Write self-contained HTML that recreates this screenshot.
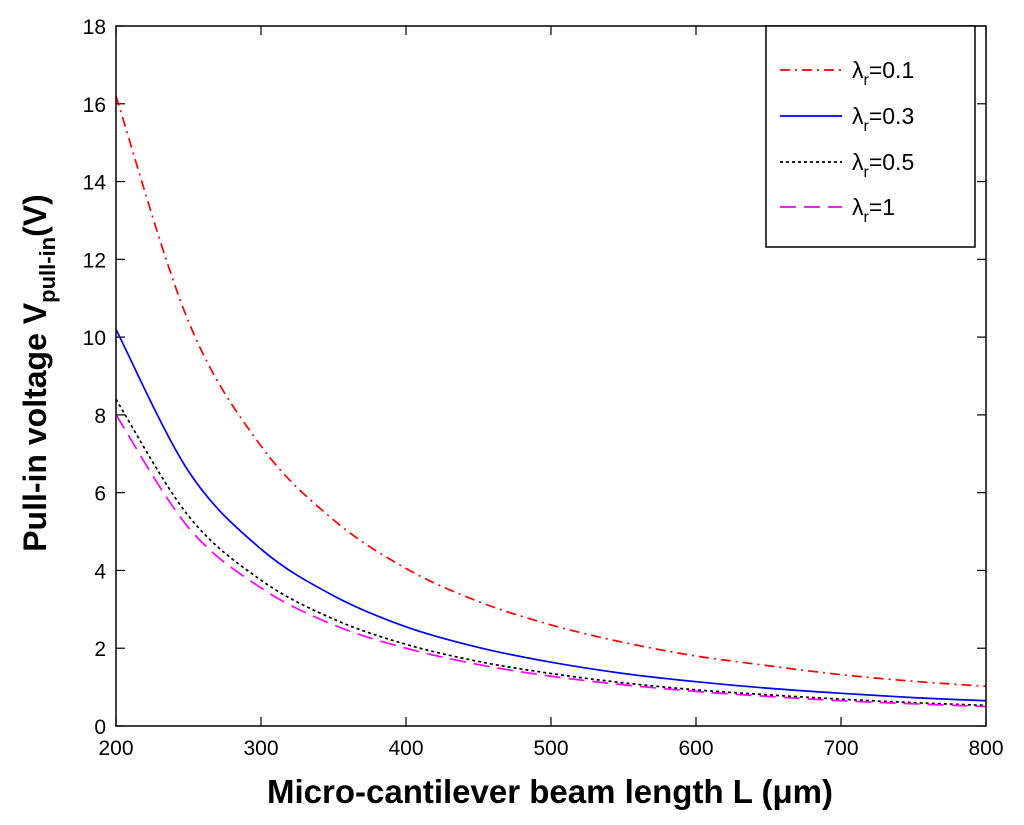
<!DOCTYPE html>
<html><head><meta charset="utf-8"><style>
body{margin:0;background:#fff;}
svg{display:block;font-family:"Liberation Sans",Arial,sans-serif;}
</style></head><body>
<svg id="chart" width="1024" height="825">
<rect x="0" y="0" width="1024" height="825" fill="#fff"/>
<g id="ticks"></g>
<g id="series"></g>
<rect x="116" y="26" width="870" height="700" fill="none" stroke="#000" stroke-width="1.5"/>
<text x="550" y="803" text-anchor="middle" font-size="33" font-weight="bold">Micro-cantilever beam length L (μm)</text>
<text transform="translate(46,373) rotate(-90)" text-anchor="middle" font-size="32" font-weight="bold">Pull-in voltage V<tspan font-size="22" dy="9">pull-in</tspan><tspan dy="-9">(V)</tspan></text>
<g>
<rect x="766" y="26" width="209" height="221" fill="#fff" stroke="#000" stroke-width="1.5"/>
<g id="legend-entries"></g>
</g>
</svg>
<script>
const xValues=[200,250,300,350,400,450,500,550,600,650,700,750,800];
const red=[16.2,10.4,7.2,5.3,4.05,3.2,2.6,2.15,1.8,1.55,1.32,1.15,1.02];
const blue=[10.2,6.55,4.55,3.35,2.55,2.02,1.64,1.35,1.14,0.97,0.84,0.73,0.65];
const black=[8.4,5.4,3.75,2.75,2.1,1.66,1.35,1.11,0.93,0.8,0.69,0.6,0.53];
const magenta=[8.0,5.1,3.55,2.6,2.0,1.58,1.28,1.06,0.89,0.76,0.65,0.57,0.5];
const xTicks=[200,300,400,500,600,700,800];
const yTicks=[0,2,4,6,8,10,12,14,16,18];
const labels=["0.1","0.3","0.5","1"];
const NS="http://www.w3.org/2000/svg";
const X0=116,X1=986,Y0=726,Y1=26;
const sx=v=>X0+(v-200)/600*(X1-X0);
const sy=v=>Y0-v/18*(Y0-Y1);
function mk(t,a,p){const e=document.createElementNS(NS,t);for(const k in a)e.setAttribute(k,a[k]);p.appendChild(e);return e;}
const tg=document.getElementById('ticks');
xTicks.forEach(v=>{const x=sx(v);
 let l=mk('line',{x1:x,x2:x,y1:Y0,y2:Y0-9,stroke:'#000','stroke-width':1.2},tg);
 
 
 let l2=mk('line',{x1:x,x2:x,y1:Y1,y2:Y1+9,stroke:'#000','stroke-width':1.2},tg);
 
 
 let t=mk('text',{x:x,y:755,'text-anchor':'middle','font-size':21},tg);t.textContent=v;
 
 
});
yTicks.forEach(v=>{const y=sy(v);
 let l=mk('line',{x1:X0,x2:X0+9,y1:y,y2:y,stroke:'#000','stroke-width':1.2},tg);
 
 
 let l2=mk('line',{x1:X1,x2:X1-9,y1:y,y2:y,stroke:'#000','stroke-width':1.2},tg);
 
 
 let t=mk('text',{x:106,y:y+8,'text-anchor':'end','font-size':21},tg);t.textContent=v;
 
 
});
function pathFor(ys){
 const p=xValues.map((x,i)=>[sx(x),sy(ys[i])]);
 let d='M'+p[0][0]+','+p[0][1];
 for(let i=0;i<p.length-1;i++){
  const p0=p[Math.max(0,i-1)],p1=p[i],p2=p[i+1],p3=p[Math.min(p.length-1,i+2)];
  const c1=[p1[0]+(p2[0]-p0[0])/6,p1[1]+(p2[1]-p0[1])/6];
  const c2=[p2[0]-(p3[0]-p1[0])/6,p2[1]-(p3[1]-p1[1])/6];
  d+=` C${c1[0]},${c1[1]} ${c2[0]},${c2[1]} ${p2[0]},${p2[1]}`;
 }
 return d;
}
const styles=[['#ff0000','10,5,2,5'],['#0000ff',''],['#000000','3,3'],['#ff00ff','16,8']];
const sets=[red,blue,black,magenta];
const names=['series-lambda-0.1','series-lambda-0.3','series-lambda-0.5','series-lambda-1'];
const sg=document.getElementById('series');
sets.forEach((s,i)=>{
 const e=mk('path',{d:pathFor(s),fill:'none',stroke:styles[i][0],'stroke-width':1.7,'stroke-dasharray':styles[i][1]},sg);
 
 
});
const lg=document.getElementById('legend-entries');
const ly=[70,116,162,207];
labels.forEach((lab,i)=>{
 const g=mk('g',{},lg);
 
 
 mk('line',{x1:780,x2:842,y1:ly[i],y2:ly[i],stroke:styles[i][0],'stroke-width':1.7,'stroke-dasharray':styles[i][1]},g);
 const t=mk('text',{x:852,y:ly[i]+8,'font-size':23},g);
 t.innerHTML='λ<tspan font-size="16" dy="7">r</tspan><tspan dy="-7">='+lab+'</tspan>';
});
</script>
</body></html>
